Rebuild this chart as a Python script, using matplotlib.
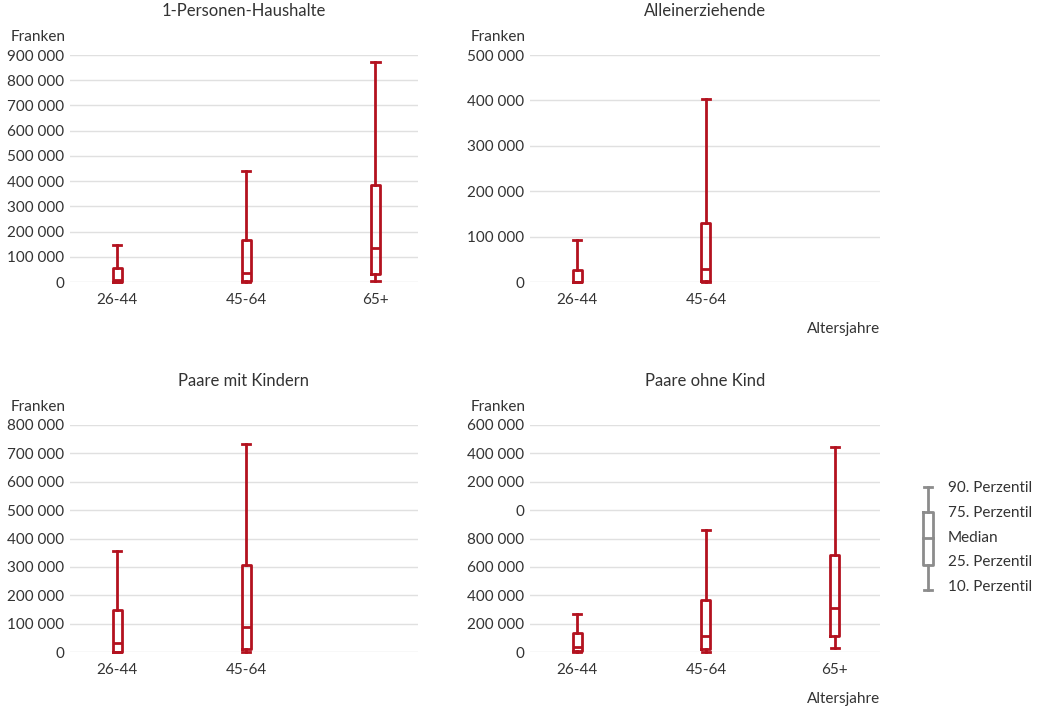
import matplotlib
matplotlib.use("Agg")
import matplotlib.pyplot as plt

plt.rcParams['font.family'] = ['Lato', 'DejaVu Sans']

# Age groups
categories = ["26-44", "45-64", "65+"]

# Panel titles
titles = ["1-Personen-Haushalte", "Alleinerziehende", "Paare mit Kindern", "Paare ohne Kind"]

# Percentiles per panel and age group: (p10, p25, median, p75, p90), in Franken
p10 = [[0, 0, 4000], [0, 0], [0, 0], [0, 0, 28000]]
p25 = [[0, 5000, 32000], [0, 2000], [0, 10000], [9000, 19000, 115000]]
median = [[8000, 34000, 135000], [1000, 29000], [31000, 87000], [35000, 115000, 310000]]
p75 = [[56000, 165000, 383000], [26000, 130000], [147000, 306000], [134000, 366000, 684000]]
p90 = [[147000, 441000, 871000], [92000, 403000], [357000, 733000], [266000, 860000, 1443000]]

# Y axis ticks and their labels
y_ticks = [
    [0, 100000, 200000, 300000, 400000, 500000, 600000, 700000, 800000, 900000],
    [0, 100000, 200000, 300000, 400000, 500000],
    [0, 100000, 200000, 300000, 400000, 500000, 600000, 700000, 800000],
    [0, 200000, 400000, 600000, 800000, 1000000, 1200000, 1400000, 1600000],
]
y_labels = [
    ["0", "100 000", "200 000", "300 000", "400 000", "500 000", "600 000", "700 000", "800 000", "900 000"],
    ["0", "100 000", "200 000", "300 000", "400 000", "500 000"],
    ["0", "100 000", "200 000", "300 000", "400 000", "500 000", "600 000", "700 000", "800 000"],
    ["0", "200 000", "400 000", "600 000", "800 000", "0", "200 000", "400 000", "600 000"],
]

RED = "#b3121f"
GRID = "#e0e0e0"
TEXT = "#333333"
W, H = 1045, 709

fig = plt.figure(figsize=(W / 100, H / 100), dpi=100)

# Axes placement in pixels: (left, right, top, bottom)
boxes_px = [(70, 418, 55, 282), (530, 880, 55, 282), (70, 418, 425, 652), (530, 880, 425, 652)]

for i, (l, r, t, b) in enumerate(boxes_px):
    ax = fig.add_axes([l / W, 1 - b / H, (r - l) / W, (b - t) / H])
    n = len(median[i])
    stats = []
    for j in range(n):
        stats.append(dict(whislo=p10[i][j], q1=p25[i][j], med=median[i][j],
                          q3=p75[i][j], whishi=p90[i][j], fliers=[]))
    art = ax.bxp(stats, positions=list(range(n)), widths=0.07, capwidths=0.065,
                 showfliers=False, patch_artist=False,
                 boxprops=dict(color=RED, linewidth=2.0),
                 whiskerprops=dict(color=RED, linewidth=2.0),
                 capprops=dict(color=RED, linewidth=2.0),
                 medianprops=dict(color=RED, linewidth=2.0))
    for key in art:
        for a in art[key]:
            a.set_clip_on(False)
            a.set_zorder(3)

    ax.set_xlim(-0.365, 2.33 if i in (0, 2) else 2.35)
    ax.set_ylim(y_ticks[i][0], y_ticks[i][-1])
    ax.set_yticks(y_ticks[i])
    ax.set_yticklabels(y_labels[i])
    ax.set_xticks(list(range(n)))
    ax.set_xticklabels(categories[:n])
    ax.grid(axis='y', color=GRID, linewidth=1.0)
    ax.set_axisbelow(True)
    for s in ax.spines.values():
        s.set_visible(False)
    ax.tick_params(axis='both', length=0, labelsize=11, colors=TEXT)
    ax.tick_params(axis='y', pad=4)
    ax.tick_params(axis='x', pad=8)
    ax.set_title(titles[i], fontsize=12, color=TEXT, pad=28)
    ax.text(-0.012, 1.05, "Franken", transform=ax.transAxes, ha='right', va='bottom',
            fontsize=11, color=TEXT)
    if i in (1, 3):
        ax.text(1.0, -0.175, "Altersjahre", transform=ax.transAxes, ha='right', va='top',
                fontsize=11, color=TEXT)

# Legend explaining the box elements
leg = fig.add_axes([0, 0, 1, 1])
leg.set_xlim(0, W)
leg.set_ylim(H, 0)
leg.axis('off')
GREY = "#8c8c8c"
cx = 928
leg.plot([cx, cx], [487, 512], color=GREY, lw=2)
leg.plot([cx, cx], [565, 590], color=GREY, lw=2)
leg.plot([cx - 4, cx + 4], [487, 487], color=GREY, lw=2)
leg.plot([cx - 4, cx + 4], [590, 590], color=GREY, lw=2)
leg.plot([cx - 5, cx + 5, cx + 5, cx - 5, cx - 5], [512, 512, 565, 565, 512], color=GREY, lw=2)
leg.plot([cx - 5, cx + 5], [538, 538], color=GREY, lw=2)
legend_labels = ["90. Perzentil", "75. Perzentil", "Median", "25. Perzentil", "10. Perzentil"]
for lab, yy in zip(legend_labels, [488, 513, 538, 562, 587]):
    leg.text(948, yy, lab, ha='left', va='center', fontsize=11, color=TEXT)

fig.savefig("out.png", dpi=100)
